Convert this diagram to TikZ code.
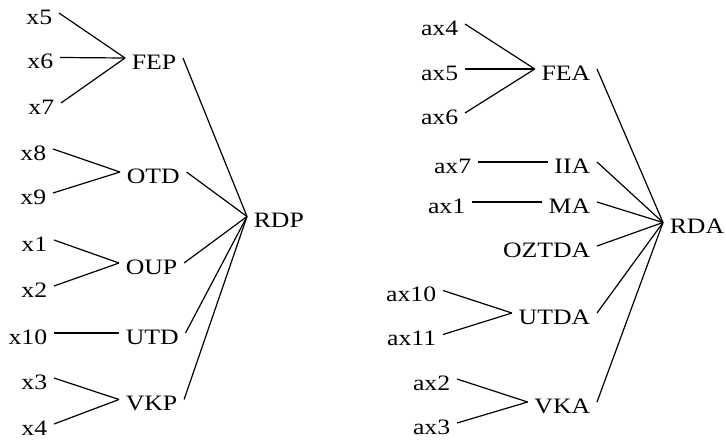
\documentclass[tikz,border=0pt]{standalone}
\usepackage{fontspec}
\setmainfont[FakeStretch=1.17]{Liberation Serif}
\begin{document}
\begin{tikzpicture}[x=0.5pt,y=-0.5pt,
  lbl/.style={inner xsep=3.2pt,inner ysep=0pt,text height=11.3pt,text depth=0pt,font=\fontsize{11pt}{13pt}\selectfont},
  leaf/.style={lbl,anchor=east},
  midl/.style={lbl,anchor=west},
  midr/.style={lbl,anchor=east},
  root/.style={lbl,anchor=west},
  edge/.style={draw,line width=0.6pt}]
\useasboundingbox (0,0) rectangle (726,439);
% left tree
\node[leaf] (x5) at (59,13) {x5};
\node[leaf] (x6) at (60,57.5) {x6};
\node[leaf] (x7) at (61,103) {x7};
\node[midl] (FEP) at (125,58) {FEP};
\node[leaf] (x8) at (53,149) {x8};
\node[leaf] (x9) at (53,193) {x9};
\node[midl] (OTD) at (120,172) {OTD};
\node[leaf] (x1) at (54,240) {x1};
\node[leaf] (x2) at (54,286) {x2};
\node[midl] (OUP) at (119,263) {OUP};
\node[leaf] (x10) at (54,333) {x10};
\node[midl] (UTD) at (119,333) {UTD};
\node[leaf] (x3) at (54,378) {x3};
\node[leaf] (x4) at (54,424) {x4};
\node[midl] (VKP) at (119,399.5) {VKP};
\node[root] (RDP) at (247,216.5) {RDP};
\foreach \a/\b in {x5/FEP,x6/FEP,x7/FEP,x8/OTD,x9/OTD,x1/OUP,x2/OUP,x10/UTD,x3/VKP,x4/VKP}
  \draw[edge] (\a.east) -- (\b.west);
\foreach \a in {FEP,OTD,OUP,UTD,VKP}
  \draw[edge] (\a.east) -- (RDP.west);
% right tree
\node[leaf] (ax4) at (465,24) {ax4};
\node[leaf] (ax5) at (465,69) {ax5};
\node[leaf] (ax6) at (465,113) {ax6};
\node[midr] (FEA) at (597,69) {FEA};
\node[leaf] (ax7) at (478,162) {ax7};
\node[midr] (IIA) at (597,162) {IIA};
\node[leaf] (ax1) at (472,202) {ax1};
\node[midr] (MA) at (597,202) {MA};
\node[midr] (OZTDA) at (597,246) {OZTDA};
\node[leaf] (ax10) at (443,290.5) {ax10};
\node[leaf] (ax11) at (443,334.5) {ax11};
\node[midr] (UTDA) at (597,313) {UTDA};
\node[leaf] (ax2) at (457,379) {ax2};
\node[leaf] (ax3) at (457,423) {ax3};
\node[midr] (VKA) at (597,402) {VKA};
\node[root] (RDA) at (663,222.5) {RDA};
\foreach \a/\b in {ax4/FEA,ax5/FEA,ax6/FEA,ax7/IIA,ax1/MA,ax10/UTDA,ax11/UTDA,ax2/VKA,ax3/VKA}
  \draw[edge] (\a.east) -- (\b.west);
\foreach \a in {FEA,IIA,MA,OZTDA,UTDA,VKA}
  \draw[edge] (\a.east) -- (RDA.west);
\end{tikzpicture}
\end{document}
